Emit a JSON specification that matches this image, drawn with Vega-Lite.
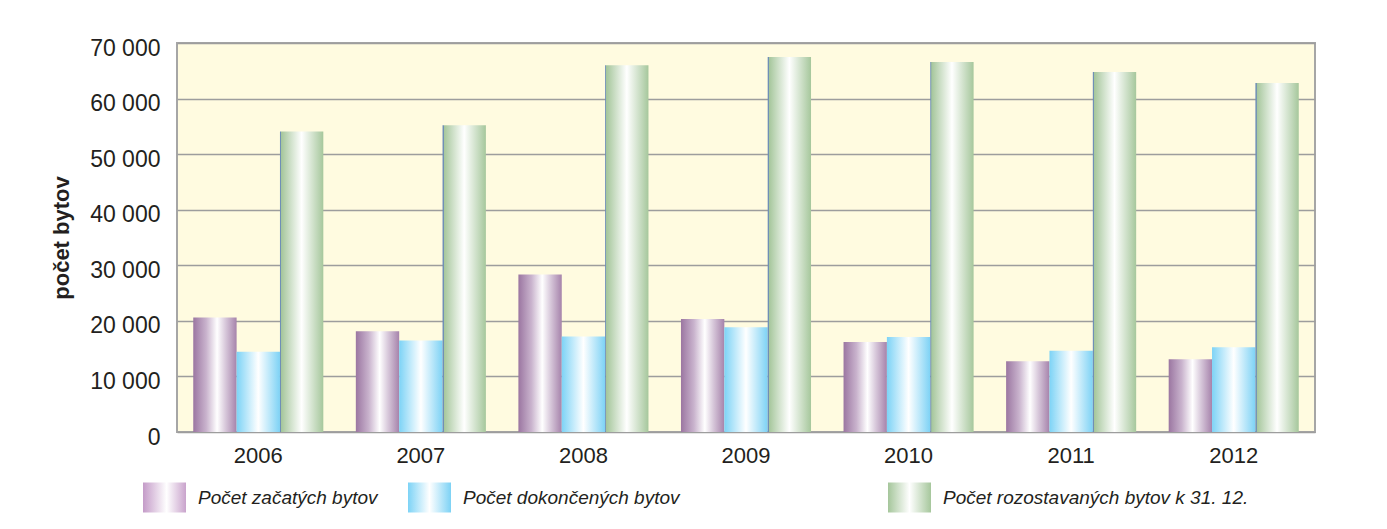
{
  "$schema": "https://vega.github.io/schema/vega-lite/v6.json",
  "width": 1138,
  "height": 389,
  "autosize": {"type": "none"},
  "padding": {"left": 177, "top": 43, "right": 72, "bottom": 97},
  "background": "#ffffff",
  "config": {
    "font": "Liberation Sans",
    "view": {"fill": "#fffbe0", "stroke": "#a6a6a6", "strokeWidth": 2},
    "legend": {
      "orient": "none",
      "direction": "horizontal",
      "title": null,
      "padding": 0,
      "symbolSize": 1849,
      "symbolStrokeWidth": 0,
      "symbolOpacity": 1,
      "labelFontSize": 19,
      "labelFontStyle": "italic",
      "labelColor": "#231f20",
      "labelLimit": 500,
      "labelOffset": 12
    }
  },
  "data": {
    "values": [
      {"year": "2006", "series": "Počet začatých bytov", "value": 20592},
      {"year": "2006", "series": "Počet dokončených bytov", "value": 14444},
      {"year": "2006", "series": "Počet rozostavaných bytov k 31. 12.", "value": 54060},
      {"year": "2007", "series": "Počet začatých bytov", "value": 18116},
      {"year": "2007", "series": "Počet dokončených bytov", "value": 16473},
      {"year": "2007", "series": "Počet rozostavaných bytov k 31. 12.", "value": 55200},
      {"year": "2008", "series": "Počet začatých bytov", "value": 28321},
      {"year": "2008", "series": "Počet dokončených bytov", "value": 17184},
      {"year": "2008", "series": "Počet rozostavaných bytov k 31. 12.", "value": 66000},
      {"year": "2009", "series": "Počet začatých bytov", "value": 20325},
      {"year": "2009", "series": "Počet dokončených bytov", "value": 18834},
      {"year": "2009", "series": "Počet rozostavaných bytov k 31. 12.", "value": 67500},
      {"year": "2010", "series": "Počet začatých bytov", "value": 16211},
      {"year": "2010", "series": "Počet dokončených bytov", "value": 17076},
      {"year": "2010", "series": "Počet rozostavaných bytov k 31. 12.", "value": 66600},
      {"year": "2011", "series": "Počet začatých bytov", "value": 12740},
      {"year": "2011", "series": "Počet dokončených bytov", "value": 14608},
      {"year": "2011", "series": "Počet rozostavaných bytov k 31. 12.", "value": 64800},
      {"year": "2012", "series": "Počet začatých bytov", "value": 13099},
      {"year": "2012", "series": "Počet dokončených bytov", "value": 15255},
      {"year": "2012", "series": "Počet rozostavaných bytov k 31. 12.", "value": 62800}
    ]
  },
  "encoding": {
    "x": {
      "field": "year",
      "type": "nominal",
      "scale": {"paddingInner": 0.2, "paddingOuter": 0.1},
      "axis": {
        "title": null,
        "labelAngle": 0,
        "domain": false,
        "ticks": false,
        "grid": false,
        "labelFontSize": 22,
        "labelColor": "#231f20",
        "labelPadding": 13
      }
    },
    "xOffset": {
      "field": "series",
      "type": "nominal",
      "scale": {
        "domain": ["Počet začatých bytov", "Počet dokončených bytov", "Počet rozostavaných bytov k 31. 12."],
        "paddingInner": 0,
        "paddingOuter": 0
      }
    },
    "y": {
      "field": "value",
      "type": "quantitative",
      "stack": null,
      "scale": {"domain": [0, 70000], "nice": false},
      "axis": {
        "values": [0, 10000, 20000, 30000, 40000, 50000, 60000, 70000],
        "labelExpr": "replace(format(datum.value, ','), ',', ' ')",
        "domain": false,
        "ticks": false,
        "grid": true,
        "gridColor": "#9d9d9d",
        "gridWidth": 1.5,
        "labelFontSize": 23,
        "labelColor": "#231f20",
        "labelPadding": 17,
        "labelOffset": 5,
        "title": "počet bytov",
        "titleFontSize": 22,
        "titleFontWeight": "bold",
        "titleColor": "#231f20",
        "titlePadding": 16
      }
    }
  },
  "layer": [
    {
      "mark": {"type": "bar"},
      "encoding": {
        "color": {
          "condition": [
            {
              "test": "datum.series === 'Počet začatých bytov'",
              "value": {"gradient": "linear", "x1": 0, "y1": 0, "x2": 1, "y2": 0, "stops": [
                {"offset": 0, "color": "#9b76a1"},
                {"offset": 0.3, "color": "#c9b3cd"},
                {"offset": 0.55, "color": "#ffffff"},
                {"offset": 0.75, "color": "#d6c6d9"},
                {"offset": 1, "color": "#a683ab"}
              ]}
            },
            {
              "test": "datum.series === 'Počet dokončených bytov'",
              "value": {"gradient": "linear", "x1": 0, "y1": 0, "x2": 1, "y2": 0, "stops": [
                {"offset": 0, "color": "#7dd3f6"},
                {"offset": 0.5, "color": "#ffffff"},
                {"offset": 1, "color": "#7dd2f5"}
              ]}
            }
          ],
          "value": {"gradient": "linear", "x1": 0, "y1": 0, "x2": 1, "y2": 0, "stops": [
            {"offset": 0, "color": "#6f8fb6"},
            {"offset": 0.025, "color": "#6f8fb6"},
            {"offset": 0.03, "color": "#a5c69b"},
            {"offset": 0.5, "color": "#ffffff"},
            {"offset": 1, "color": "#a6c79c"}
          ]}
        }
      }
    },
    {
      "transform": [{"filter": "datum.series === 'Počet začatých bytov'"}],
      "mark": {
        "type": "point",
        "filled": true,
        "opacity": 0,
        "color": {"gradient": "linear", "x1": 0, "y1": 0, "x2": 1, "y2": 0, "stops": [
          {"offset": 0, "color": "#c49bc8"},
          {"offset": 0.55, "color": "#ffffff"},
          {"offset": 1, "color": "#c9a3cc"}
        ]}
      },
      "encoding": {
        "shape": {
          "field": "series",
          "type": "nominal",
          "scale": {"range": ["M-1,-0.7H1V0.7H-1Z"]},
          "legend": {"legendX": -34, "legendY": 433}
        }
      }
    },
    {
      "transform": [{"filter": "datum.series === 'Počet dokončených bytov'"}],
      "mark": {
        "type": "point",
        "filled": true,
        "opacity": 0,
        "color": {"gradient": "linear", "x1": 0, "y1": 0, "x2": 1, "y2": 0, "stops": [
          {"offset": 0, "color": "#7dd3f6"},
          {"offset": 0.5, "color": "#ffffff"},
          {"offset": 1, "color": "#7dd2f5"}
        ]}
      },
      "encoding": {
        "shape": {
          "field": "series",
          "type": "nominal",
          "scale": {"range": ["M-1,-0.7H1V0.7H-1Z"]},
          "legend": {"legendX": 231, "legendY": 433}
        }
      }
    },
    {
      "transform": [{"filter": "datum.series === 'Počet rozostavaných bytov k 31. 12.'"}],
      "mark": {
        "type": "point",
        "filled": true,
        "opacity": 0,
        "color": {"gradient": "linear", "x1": 0, "y1": 0, "x2": 1, "y2": 0, "stops": [
          {"offset": 0, "color": "#a5c69b"},
          {"offset": 0.5, "color": "#ffffff"},
          {"offset": 1, "color": "#a6c79c"}
        ]}
      },
      "encoding": {
        "shape": {
          "field": "series",
          "type": "nominal",
          "scale": {"range": ["M-1,-0.7H1V0.7H-1Z"]},
          "legend": {"legendX": 711, "legendY": 433}
        }
      }
    }
  ],
  "resolve": {"scale": {"shape": "independent"}, "legend": {"shape": "independent"}}
}
